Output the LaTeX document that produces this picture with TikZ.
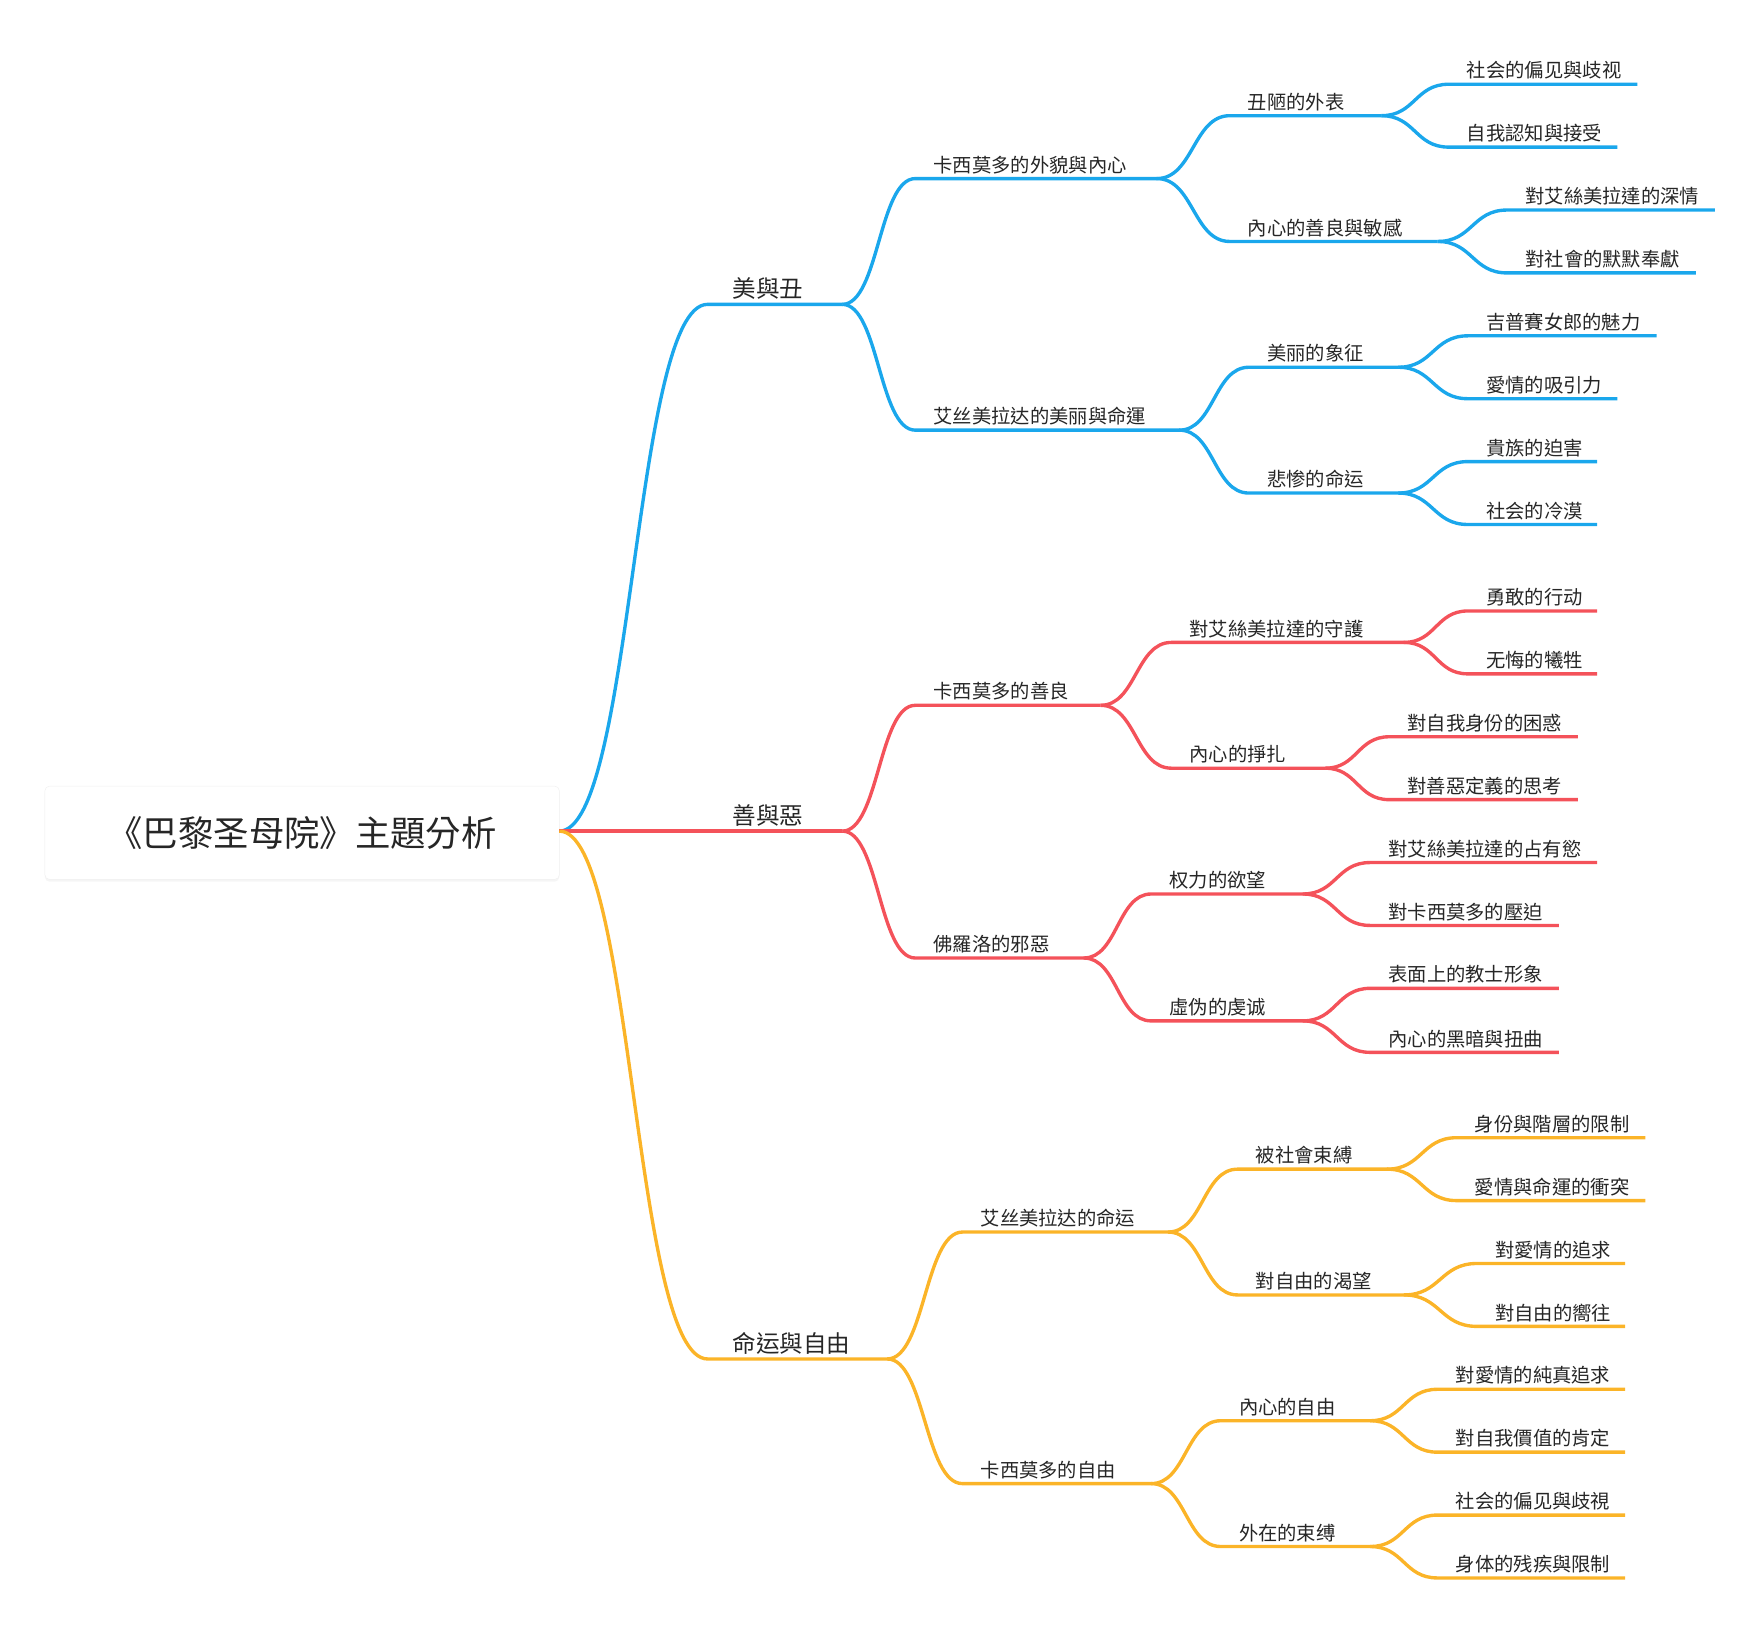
\documentclass[tikz,border=0pt]{standalone}
\usepackage{fontspec}
\setmainfont{Noto Sans CJK TC}
\usetikzlibrary{calc,shadows}
\definecolor{cb}{HTML}{1AA7EC}
\definecolor{cr}{HTML}{F4525A}
\definecolor{cy}{HTML}{FBB428}
\tikzset{x=1pt,y=-1pt,
 lnk/.style={line width=3pt},
 lab/.style={anchor=south west,inner sep=2pt,text=black!85},
 fa/.style={font=\fontsize{21}{23}\selectfont,xshift=6pt},
 fb/.style={font=\fontsize{17.2}{19}\selectfont}}
\newcommand\tb[8]{%
 \coordinate (#2s) at (#4,#5); \coordinate (#2e) at (#6,#5);
 \draw[lnk,#3] let \p1=(#1e), \p2=(#2s) in (\p1) .. controls ({(\x1+\x2)/2},\y1) and ({(\x1+\x2)/2},\y2) .. (\p2) -- (#2e);
 \node[lab,#8] (#2) at ($(#2s)+(14,-2)$) {#7};}
\begin{document}
\begin{tikzpicture}
\useasboundingbox (0,0) rectangle (1568,1460);
\node[draw=black!6,fill=white,rounded corners=4pt,minimum width=458pt,minimum height=83pt,drop shadow={opacity=0.08,shadow xshift=0pt,shadow yshift=-2pt},font=\fontsize{31.5}{34}\selectfont,text=black!85] (root) at (269,741.5) {《巴黎圣母院》主題分析};
\coordinate (roote) at (498,740);
% beauty
\tb{root}{a}{cb}{630}{271}{750}{美與丑}{fa}
\tb{a}{a1}{cb}{815}{159}{1030}{卡西莫多的外貌與內心}{fb}
\tb{a}{a2}{cb}{815}{383}{1050}{艾丝美拉达的美丽與命運}{fb}
\tb{a1}{a11}{cb}{1095}{103}{1230}{丑陋的外表}{fb}
\tb{a1}{a12}{cb}{1095}{215}{1280}{內心的善良與敏感}{fb}
\tb{a2}{a21}{cb}{1112}{327}{1245}{美丽的象征}{fb}
\tb{a2}{a22}{cb}{1112}{439}{1245}{悲惨的命运}{fb}
\tb{a11}{a111}{cb}{1290}{75}{1458}{社会的偏见與歧视}{fb}
\tb{a11}{a112}{cb}{1290}{131}{1440}{自我認知與接受}{fb}
\tb{a12}{a121}{cb}{1342}{187}{1527}{對艾絲美拉達的深情}{fb}
\tb{a12}{a122}{cb}{1342}{243}{1510}{對社會的默默奉獻}{fb}
\tb{a21}{a211}{cb}{1307}{299}{1475}{吉普賽女郎的魅力}{fb}
\tb{a21}{a212}{cb}{1307}{355}{1440}{愛情的吸引力}{fb}
\tb{a22}{a221}{cb}{1307}{411}{1422}{貴族的迫害}{fb}
\tb{a22}{a222}{cb}{1307}{467}{1422}{社会的冷漠}{fb}
% good and evil
\tb{root}{b}{cr}{630}{740}{750}{善與惡}{fa}
\tb{b}{b1}{cr}{815}{628}{980}{卡西莫多的善良}{fb}
\tb{b}{b2}{cr}{815}{853}{965}{佛羅洛的邪惡}{fb}
\tb{b1}{b11}{cr}{1043}{572}{1250}{對艾絲美拉達的守護}{fb}
\tb{b1}{b12}{cr}{1043}{684}{1180}{內心的掙扎}{fb}
\tb{b2}{b21}{cr}{1025}{796}{1160}{权力的欲望}{fb}
\tb{b2}{b22}{cr}{1025}{909}{1160}{虛伪的虔诚}{fb}
\tb{b11}{b111}{cr}{1307}{544}{1422}{勇敢的行动}{fb}
\tb{b11}{b112}{cr}{1307}{600}{1422}{无悔的犧牲}{fb}
\tb{b12}{b121}{cr}{1237}{656}{1405}{對自我身份的困惑}{fb}
\tb{b12}{b122}{cr}{1237}{712}{1405}{對善惡定義的思考}{fb}
\tb{b21}{b211}{cr}{1220}{768}{1422}{對艾絲美拉達的占有慾}{fb}
\tb{b21}{b212}{cr}{1220}{824}{1388}{對卡西莫多的壓迫}{fb}
\tb{b22}{b221}{cr}{1220}{880}{1388}{表面上的教士形象}{fb}
\tb{b22}{b222}{cr}{1220}{937}{1388}{內心的黑暗與扭曲}{fb}
% fate and freedom
\tb{root}{c}{cy}{630}{1210}{790}{命运與自由}{fa}
\tb{c}{c1}{cy}{857}{1097}{1040}{艾丝美拉达的命运}{fb}
\tb{c}{c2}{cy}{857}{1321}{1025}{卡西莫多的自由}{fb}
\tb{c1}{c11}{cy}{1102}{1041}{1235}{被社會束縛}{fb}
\tb{c1}{c12}{cy}{1102}{1153}{1250}{對自由的渴望}{fb}
\tb{c2}{c21}{cy}{1087}{1265}{1220}{內心的自由}{fb}
\tb{c2}{c22}{cy}{1087}{1377}{1220}{外在的束缚}{fb}
\tb{c11}{c111}{cy}{1297}{1013}{1465}{身份與階層的限制}{fb}
\tb{c11}{c112}{cy}{1297}{1069}{1465}{愛情與命運的衝突}{fb}
\tb{c12}{c121}{cy}{1315}{1125}{1447}{對愛情的追求}{fb}
\tb{c12}{c122}{cy}{1315}{1181}{1447}{對自由的嚮往}{fb}
\tb{c21}{c211}{cy}{1280}{1237}{1447}{對愛情的純真追求}{fb}
\tb{c21}{c212}{cy}{1280}{1293}{1447}{對自我價值的肯定}{fb}
\tb{c22}{c221}{cy}{1280}{1349}{1447}{社会的偏见與歧視}{fb}
\tb{c22}{c222}{cy}{1280}{1405}{1447}{身体的残疾與限制}{fb}
\end{tikzpicture}
\end{document}
